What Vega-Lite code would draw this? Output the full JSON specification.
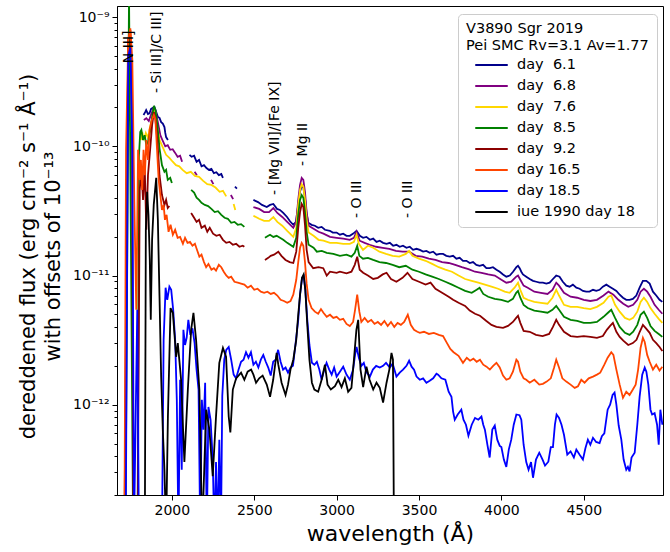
{
"$schema": "https://vega.github.io/schema/vega-lite/v6.json",
"width": 546, "height": 489,
"autosize": {"type": "none"},
"padding": {"left": 117, "top": 6, "right": 7, "bottom": 57},
"background": "white",
"datasets": {
"ann": [
{"t":"N III]","w":1742,"f":4.4e-10},
{"t":"- Si III]/C III]","w":1912,"f":2.59e-10},
{"t":"- [Mg VII]/[Fe IX]","w":2626,"f":4.21e-11},
{"t":"- Mg II","w":2798,"f":7.05e-11},
{"t":"- O III","w":3125,"f":2.79e-11},
{"t":"- O III","w":3434,"f":2.79e-11}
],
"spec": [
{"s":"6.1","g":"a","w":1828,"f":1.75e-10},{"s":"6.1","g":"a","w":1838,"f":1.84e-10},{"s":"6.1","g":"a","w":1844,"f":1.91e-10},{"s":"6.1","g":"a","w":1855,"f":1.78e-10},{"s":"6.1","g":"a","w":1864,"f":1.8e-10},{"s":"6.1","g":"a","w":1874,"f":1.95e-10},{"s":"6.1","g":"a","w":1885,"f":1.99e-10},{"s":"6.1","g":"a","w":1894,"f":2.02e-10},{"s":"6.1","g":"a","w":1905,"f":1.84e-10},{"s":"6.1","g":"a","w":1915,"f":1.69e-10},{"s":"6.1","g":"a","w":1925,"f":1.66e-10},{"s":"6.1","g":"a","w":1935,"f":1.54e-10},{"s":"6.1","g":"a","w":1945,"f":1.5e-10},{"s":"6.1","g":"a","w":1955,"f":1.41e-10},{"s":"6.1","g":"a","w":1960,"f":1.27e-10},{"s":"6.1","g":"a","w":1965,"f":1.18e-10},{"s":"6.1","g":"a","w":1976,"f":1.12e-10},
{"s":"6.1","g":"b","w":2107,"f":8.6e-11},{"s":"6.1","g":"b","w":2120,"f":8.3e-11},{"s":"6.1","g":"b","w":2135,"f":8.45e-11},{"s":"6.1","g":"b","w":2150,"f":7.6e-11},{"s":"6.1","g":"b","w":2165,"f":7.85e-11},{"s":"6.1","g":"b","w":2180,"f":7.0e-11},{"s":"6.1","g":"b","w":2195,"f":7.15e-11},{"s":"6.1","g":"b","w":2210,"f":6.8e-11},{"s":"6.1","g":"b","w":2225,"f":6.57e-11},{"s":"6.1","g":"b","w":2240,"f":6.7e-11},{"s":"6.1","g":"b","w":2255,"f":6.2e-11},{"s":"6.1","g":"b","w":2270,"f":6.3e-11},{"s":"6.1","g":"b","w":2285,"f":5.98e-11},{"s":"6.1","g":"b","w":2300,"f":6.1e-11},{"s":"6.1","g":"b","w":2310,"f":5.7e-11},
{"s":"6.1","g":"c","w":2383,"f":4.87e-11},{"s":"6.1","g":"c","w":2395,"f":4.7e-11},
{"s":"6.1","g":"d","w":2495,"f":3.85e-11},{"s":"6.1","g":"d","w":2523,"f":3.7e-11},{"s":"6.1","g":"d","w":2547,"f":3.52e-11},{"s":"6.1","g":"d","w":2576,"f":3.39e-11},{"s":"6.1","g":"d","w":2596,"f":3.52e-11},{"s":"6.1","g":"d","w":2616,"f":3.58e-11},{"s":"6.1","g":"d","w":2638,"f":3.28e-11},{"s":"6.1","g":"d","w":2656,"f":3.22e-11},{"s":"6.1","g":"d","w":2676,"f":3.05e-11},{"s":"6.1","g":"d","w":2699,"f":2.84e-11},{"s":"6.1","g":"d","w":2717,"f":2.63e-11},{"s":"6.1","g":"d","w":2737,"f":2.47e-11},{"s":"6.1","g":"d","w":2753,"f":2.6e-11},{"s":"6.1","g":"d","w":2767,"f":3.52e-11},{"s":"6.1","g":"d","w":2777,"f":4.45e-11},{"s":"6.1","g":"d","w":2788,"f":4.87e-11},{"s":"6.1","g":"d","w":2798,"f":4.8e-11},{"s":"6.1","g":"d","w":2808,"f":4.0e-11},{"s":"6.1","g":"d","w":2818,"f":3.0e-11},{"s":"6.1","g":"d","w":2828,"f":2.56e-11},{"s":"6.1","g":"d","w":2848,"f":2.47e-11},{"s":"6.1","g":"d","w":2868,"f":2.43e-11},{"s":"6.1","g":"d","w":2888,"f":2.34e-11},{"s":"6.1","g":"d","w":2909,"f":2.38e-11},{"s":"6.1","g":"d","w":2929,"f":2.26e-11},{"s":"6.1","g":"d","w":2959,"f":2.22e-11},{"s":"6.1","g":"d","w":2977,"f":2.15e-11},{"s":"6.1","g":"d","w":3000,"f":2.15e-11},{"s":"6.1","g":"d","w":3020,"f":2.07e-11},{"s":"6.1","g":"d","w":3040,"f":2.11e-11},{"s":"6.1","g":"d","w":3060,"f":2.03e-11},{"s":"6.1","g":"d","w":3080,"f":2.03e-11},{"s":"6.1","g":"d","w":3101,"f":2.11e-11},{"s":"6.1","g":"d","w":3121,"f":2.22e-11},{"s":"6.1","g":"d","w":3141,"f":2.03e-11},{"s":"6.1","g":"d","w":3161,"f":1.96e-11},{"s":"6.1","g":"d","w":3181,"f":1.99e-11},{"s":"6.1","g":"d","w":3202,"f":1.89e-11},{"s":"6.1","g":"d","w":3222,"f":1.93e-11},{"s":"6.1","g":"d","w":3242,"f":1.82e-11},{"s":"6.1","g":"d","w":3262,"f":1.86e-11},{"s":"6.1","g":"d","w":3282,"f":1.79e-11},{"s":"6.1","g":"d","w":3303,"f":1.76e-11},{"s":"6.1","g":"d","w":3323,"f":1.79e-11},{"s":"6.1","g":"d","w":3343,"f":1.7e-11},{"s":"6.1","g":"d","w":3363,"f":1.73e-11},{"s":"6.1","g":"d","w":3383,"f":1.67e-11},{"s":"6.1","g":"d","w":3403,"f":1.7e-11},{"s":"6.1","g":"d","w":3424,"f":1.64e-11},{"s":"6.1","g":"d","w":3444,"f":1.67e-11},{"s":"6.1","g":"d","w":3464,"f":1.58e-11},{"s":"6.1","g":"d","w":3485,"f":1.61e-11},{"s":"6.1","g":"d","w":3505,"f":1.58e-11},{"s":"6.1","g":"d","w":3525,"f":1.53e-11},{"s":"6.1","g":"d","w":3545,"f":1.55e-11},{"s":"6.1","g":"d","w":3565,"f":1.5e-11},{"s":"6.1","g":"d","w":3586,"f":1.53e-11},{"s":"6.1","g":"d","w":3606,"f":1.45e-11},{"s":"6.1","g":"d","w":3626,"f":1.47e-11},{"s":"6.1","g":"d","w":3646,"f":1.47e-11},{"s":"6.1","g":"d","w":3666,"f":1.42e-11},{"s":"6.1","g":"d","w":3687,"f":1.4e-11},{"s":"6.1","g":"d","w":3707,"f":1.42e-11},{"s":"6.1","g":"d","w":3727,"f":1.35e-11},{"s":"6.1","g":"d","w":3747,"f":1.37e-11},{"s":"6.1","g":"d","w":3767,"f":1.3e-11},{"s":"6.1","g":"d","w":3788,"f":1.3e-11},{"s":"6.1","g":"d","w":3808,"f":1.25e-11},{"s":"6.1","g":"d","w":3828,"f":1.27e-11},{"s":"6.1","g":"d","w":3848,"f":1.21e-11},{"s":"6.1","g":"d","w":3868,"f":1.19e-11},{"s":"6.1","g":"d","w":3889,"f":1.21e-11},{"s":"6.1","g":"d","w":3909,"f":1.14e-11},{"s":"6.1","g":"d","w":3929,"f":1.14e-11},{"s":"6.1","g":"d","w":3949,"f":1.16e-11},{"s":"6.1","g":"d","w":3970,"f":1.11e-11},{"s":"6.1","g":"d","w":3990,"f":1.07e-11},{"s":"6.1","g":"d","w":4010,"f":1.02e-11},{"s":"6.1","g":"d","w":4030,"f":9.8e-12},{"s":"6.1","g":"d","w":4051,"f":1.0e-11},{"s":"6.1","g":"d","w":4071,"f":1.07e-11},{"s":"6.1","g":"d","w":4091,"f":1.16e-11},{"s":"6.1","g":"d","w":4101,"f":1.19e-11},{"s":"6.1","g":"d","w":4111,"f":1.14e-11},{"s":"6.1","g":"d","w":4121,"f":1.07e-11},{"s":"6.1","g":"d","w":4131,"f":1.02e-11},{"s":"6.1","g":"d","w":4151,"f":9.8e-12},{"s":"6.1","g":"d","w":4172,"f":9.4e-12},{"s":"6.1","g":"d","w":4192,"f":9.1e-12},{"s":"6.1","g":"d","w":4212,"f":8.95e-12},{"s":"6.1","g":"d","w":4232,"f":8.8e-12},{"s":"6.1","g":"d","w":4252,"f":8.8e-12},{"s":"6.1","g":"d","w":4273,"f":8.65e-12},{"s":"6.1","g":"d","w":4293,"f":8.8e-12},{"s":"6.1","g":"d","w":4313,"f":9.4e-12},{"s":"6.1","g":"d","w":4333,"f":1.0e-11},{"s":"6.1","g":"d","w":4353,"f":9.8e-12},{"s":"6.1","g":"d","w":4373,"f":8.95e-12},{"s":"6.1","g":"d","w":4394,"f":8.35e-12},{"s":"6.1","g":"d","w":4414,"f":8.2e-12},{"s":"6.1","g":"d","w":4434,"f":8.5e-12},{"s":"6.1","g":"d","w":4455,"f":8.05e-12},{"s":"6.1","g":"d","w":4475,"f":7.9e-12},{"s":"6.1","g":"d","w":4495,"f":7.6e-12},{"s":"6.1","g":"d","w":4515,"f":7.5e-12},{"s":"6.1","g":"d","w":4535,"f":7.5e-12},{"s":"6.1","g":"d","w":4556,"f":7.75e-12},{"s":"6.1","g":"d","w":4576,"f":7.6e-12},{"s":"6.1","g":"d","w":4596,"f":7.75e-12},{"s":"6.1","g":"d","w":4616,"f":8.2e-12},{"s":"6.1","g":"d","w":4637,"f":8.5e-12},{"s":"6.1","g":"d","w":4657,"f":8.2e-12},{"s":"6.1","g":"d","w":4677,"f":7.9e-12},{"s":"6.1","g":"d","w":4698,"f":7.6e-12},{"s":"6.1","g":"d","w":4718,"f":7.1e-12},{"s":"6.1","g":"d","w":4738,"f":6.73e-12},{"s":"6.1","g":"d","w":4758,"f":6.49e-12},{"s":"6.1","g":"d","w":4778,"f":6.49e-12},{"s":"6.1","g":"d","w":4798,"f":6.6e-12},{"s":"6.1","g":"d","w":4819,"f":7.0e-12},{"s":"6.1","g":"d","w":4839,"f":8.05e-12},{"s":"6.1","g":"d","w":4859,"f":9.1e-12},{"s":"6.1","g":"d","w":4880,"f":9.1e-12},{"s":"6.1","g":"d","w":4900,"f":8.65e-12},{"s":"6.1","g":"d","w":4920,"f":7.5e-12},{"s":"6.1","g":"d","w":4940,"f":7.0e-12},{"s":"6.1","g":"d","w":4960,"f":6.49e-12},{"s":"6.1","g":"d","w":4977,"f":6.25e-12},

{"s":"6.8","g":"a","w":1830,"f":1.6e-10},{"s":"6.8","g":"a","w":1845,"f":1.65e-10},{"s":"6.8","g":"a","w":1860,"f":1.57e-10},{"s":"6.8","g":"a","w":1875,"f":1.78e-10},{"s":"6.8","g":"a","w":1890,"f":1.99e-10},{"s":"6.8","g":"a","w":1900,"f":1.91e-10},{"s":"6.8","g":"a","w":1915,"f":1.54e-10},{"s":"6.8","g":"a","w":1930,"f":1.22e-10},{"s":"6.8","g":"a","w":1945,"f":1.1e-10},{"s":"6.8","g":"a","w":1960,"f":1.0e-10},{"s":"6.8","g":"a","w":1975,"f":1.02e-10},{"s":"6.8","g":"a","w":1990,"f":9.4e-11},{"s":"6.8","g":"a","w":2005,"f":9.5e-11},{"s":"6.8","g":"a","w":2020,"f":8.9e-11},{"s":"6.8","g":"a","w":2035,"f":8.3e-11},{"s":"6.8","g":"a","w":2050,"f":8.45e-11},{"s":"6.8","g":"a","w":2062,"f":7.6e-11},
{"s":"6.8","g":"b","w":2138,"f":6.35e-11},{"s":"6.8","g":"b","w":2152,"f":5.98e-11},
{"s":"6.8","g":"c","w":2238,"f":5.5e-11},{"s":"6.8","g":"c","w":2252,"f":5.1e-11},
{"s":"6.8","g":"e","w":2358,"f":4.2e-11},{"s":"6.8","g":"e","w":2372,"f":3.9e-11},
{"s":"6.8","g":"d","w":2495,"f":3.39e-11},{"s":"6.8","g":"d","w":2530,"f":3.28e-11},{"s":"6.8","g":"d","w":2560,"f":3.1e-11},{"s":"6.8","g":"d","w":2590,"f":3.1e-11},{"s":"6.8","g":"d","w":2616,"f":3.33e-11},{"s":"6.8","g":"d","w":2640,"f":3.05e-11},{"s":"6.8","g":"d","w":2670,"f":2.84e-11},{"s":"6.8","g":"d","w":2700,"f":2.6e-11},{"s":"6.8","g":"d","w":2737,"f":2.34e-11},{"s":"6.8","g":"d","w":2755,"f":2.6e-11},{"s":"6.8","g":"d","w":2767,"f":3.85e-11},{"s":"6.8","g":"d","w":2778,"f":5.03e-11},{"s":"6.8","g":"d","w":2788,"f":5.7e-11},{"s":"6.8","g":"d","w":2798,"f":5.5e-11},{"s":"6.8","g":"d","w":2808,"f":4.45e-11},{"s":"6.8","g":"d","w":2818,"f":3.1e-11},{"s":"6.8","g":"d","w":2830,"f":2.43e-11},{"s":"6.8","g":"d","w":2860,"f":2.3e-11},{"s":"6.8","g":"d","w":2890,"f":2.18e-11},{"s":"6.8","g":"d","w":2920,"f":2.11e-11},{"s":"6.8","g":"d","w":2960,"f":1.99e-11},{"s":"6.8","g":"d","w":3000,"f":1.96e-11},{"s":"6.8","g":"d","w":3040,"f":1.93e-11},{"s":"6.8","g":"d","w":3080,"f":1.89e-11},{"s":"6.8","g":"d","w":3105,"f":1.96e-11},{"s":"6.8","g":"d","w":3121,"f":2.18e-11},{"s":"6.8","g":"d","w":3140,"f":1.86e-11},{"s":"6.8","g":"d","w":3170,"f":1.79e-11},{"s":"6.8","g":"d","w":3200,"f":1.73e-11},{"s":"6.8","g":"d","w":3240,"f":1.67e-11},{"s":"6.8","g":"d","w":3280,"f":1.64e-11},{"s":"6.8","g":"d","w":3320,"f":1.61e-11},{"s":"6.8","g":"d","w":3360,"f":1.55e-11},{"s":"6.8","g":"d","w":3400,"f":1.53e-11},{"s":"6.8","g":"d","w":3440,"f":1.53e-11},{"s":"6.8","g":"d","w":3480,"f":1.42e-11},{"s":"6.8","g":"d","w":3520,"f":1.4e-11},{"s":"6.8","g":"d","w":3560,"f":1.35e-11},{"s":"6.8","g":"d","w":3600,"f":1.32e-11},{"s":"6.8","g":"d","w":3640,"f":1.27e-11},{"s":"6.8","g":"d","w":3680,"f":1.25e-11},{"s":"6.8","g":"d","w":3720,"f":1.21e-11},{"s":"6.8","g":"d","w":3760,"f":1.16e-11},{"s":"6.8","g":"d","w":3800,"f":1.12e-11},{"s":"6.8","g":"d","w":3840,"f":1.07e-11},{"s":"6.8","g":"d","w":3880,"f":1.05e-11},{"s":"6.8","g":"d","w":3920,"f":1.02e-11},{"s":"6.8","g":"d","w":3960,"f":1.0e-11},{"s":"6.8","g":"d","w":4000,"f":9.27e-12},{"s":"6.8","g":"d","w":4030,"f":8.8e-12},{"s":"6.8","g":"d","w":4060,"f":8.95e-12},{"s":"6.8","g":"d","w":4090,"f":9.8e-12},{"s":"6.8","g":"d","w":4101,"f":1.0e-11},{"s":"6.8","g":"d","w":4115,"f":9.27e-12},{"s":"6.8","g":"d","w":4135,"f":8.35e-12},{"s":"6.8","g":"d","w":4160,"f":8.05e-12},{"s":"6.8","g":"d","w":4200,"f":7.5e-12},{"s":"6.8","g":"d","w":4240,"f":7.35e-12},{"s":"6.8","g":"d","w":4280,"f":7.2e-12},{"s":"6.8","g":"d","w":4310,"f":7.75e-12},{"s":"6.8","g":"d","w":4333,"f":8.8e-12},{"s":"6.8","g":"d","w":4350,"f":8.35e-12},{"s":"6.8","g":"d","w":4380,"f":7.35e-12},{"s":"6.8","g":"d","w":4420,"f":6.85e-12},{"s":"6.8","g":"d","w":4460,"f":6.73e-12},{"s":"6.8","g":"d","w":4500,"f":6.49e-12},{"s":"6.8","g":"d","w":4540,"f":6.35e-12},{"s":"6.8","g":"d","w":4580,"f":6.49e-12},{"s":"6.8","g":"d","w":4620,"f":7.0e-12},{"s":"6.8","g":"d","w":4650,"f":7.5e-12},{"s":"6.8","g":"d","w":4680,"f":7.1e-12},{"s":"6.8","g":"d","w":4710,"f":6.49e-12},{"s":"6.8","g":"d","w":4740,"f":6.05e-12},{"s":"6.8","g":"d","w":4770,"f":5.72e-12},{"s":"6.8","g":"d","w":4800,"f":5.93e-12},{"s":"6.8","g":"d","w":4825,"f":6.49e-12},{"s":"6.8","g":"d","w":4845,"f":7.5e-12},{"s":"6.8","g":"d","w":4865,"f":7.9e-12},{"s":"6.8","g":"d","w":4885,"f":7.5e-12},{"s":"6.8","g":"d","w":4905,"f":6.85e-12},{"s":"6.8","g":"d","w":4930,"f":5.93e-12},{"s":"6.8","g":"d","w":4955,"f":5.43e-12},{"s":"6.8","g":"d","w":4977,"f":5.06e-12},

{"s":"7.6","g":"a","w":1812,"f":1.12e-10},{"s":"7.6","g":"a","w":1820,"f":1.29e-10},{"s":"7.6","g":"a","w":1830,"f":1.12e-10},{"s":"7.6","g":"a","w":1842,"f":1.27e-10},{"s":"7.6","g":"a","w":1855,"f":1.16e-10},{"s":"7.6","g":"a","w":1866,"f":1.39e-10},{"s":"7.6","g":"a","w":1880,"f":1.63e-10},{"s":"7.6","g":"a","w":1891,"f":1.95e-10},{"s":"7.6","g":"a","w":1900,"f":1.84e-10},{"s":"7.6","g":"a","w":1912,"f":1.39e-10},{"s":"7.6","g":"a","w":1925,"f":1.12e-10},{"s":"7.6","g":"a","w":1945,"f":9.8e-11},{"s":"7.6","g":"a","w":1965,"f":8.6e-11},{"s":"7.6","g":"a","w":1985,"f":8.15e-11},{"s":"7.6","g":"a","w":2005,"f":7.6e-11},{"s":"7.6","g":"a","w":2025,"f":7.15e-11},{"s":"7.6","g":"a","w":2045,"f":7.0e-11},{"s":"7.6","g":"a","w":2065,"f":6.57e-11},{"s":"7.6","g":"a","w":2090,"f":6.2e-11},{"s":"7.6","g":"a","w":2115,"f":6.35e-11},{"s":"7.6","g":"a","w":2140,"f":5.9e-11},{"s":"7.6","g":"a","w":2165,"f":5.8e-11},{"s":"7.6","g":"a","w":2190,"f":5.4e-11},{"s":"7.6","g":"a","w":2215,"f":5.1e-11},{"s":"7.6","g":"a","w":2240,"f":5.03e-11},{"s":"7.6","g":"a","w":2265,"f":4.8e-11},{"s":"7.6","g":"a","w":2290,"f":4.45e-11},{"s":"7.6","g":"a","w":2310,"f":4.52e-11},{"s":"7.6","g":"a","w":2330,"f":4.1e-11},
{"s":"7.6","g":"c","w":2375,"f":3.58e-11},{"s":"7.6","g":"c","w":2385,"f":3.22e-11},
{"s":"7.6","g":"d","w":2495,"f":2.9e-11},{"s":"7.6","g":"d","w":2530,"f":2.75e-11},{"s":"7.6","g":"d","w":2560,"f":2.65e-11},{"s":"7.6","g":"d","w":2590,"f":2.65e-11},{"s":"7.6","g":"d","w":2616,"f":2.84e-11},{"s":"7.6","g":"d","w":2640,"f":2.6e-11},{"s":"7.6","g":"d","w":2670,"f":2.43e-11},{"s":"7.6","g":"d","w":2700,"f":2.22e-11},{"s":"7.6","g":"d","w":2737,"f":1.99e-11},{"s":"7.6","g":"d","w":2755,"f":2.34e-11},{"s":"7.6","g":"d","w":2767,"f":3.52e-11},{"s":"7.6","g":"d","w":2778,"f":4.6e-11},{"s":"7.6","g":"d","w":2788,"f":5.1e-11},{"s":"7.6","g":"d","w":2798,"f":4.87e-11},{"s":"7.6","g":"d","w":2808,"f":3.85e-11},{"s":"7.6","g":"d","w":2818,"f":2.7e-11},{"s":"7.6","g":"d","w":2830,"f":2.15e-11},{"s":"7.6","g":"d","w":2860,"f":2.03e-11},{"s":"7.6","g":"d","w":2890,"f":1.89e-11},{"s":"7.6","g":"d","w":2920,"f":1.86e-11},{"s":"7.6","g":"d","w":2960,"f":1.79e-11},{"s":"7.6","g":"d","w":3000,"f":1.79e-11},{"s":"7.6","g":"d","w":3040,"f":1.76e-11},{"s":"7.6","g":"d","w":3080,"f":1.76e-11},{"s":"7.6","g":"d","w":3105,"f":1.82e-11},{"s":"7.6","g":"d","w":3121,"f":2.07e-11},{"s":"7.6","g":"d","w":3135,"f":1.76e-11},{"s":"7.6","g":"d","w":3160,"f":1.58e-11},{"s":"7.6","g":"d","w":3190,"f":1.7e-11},{"s":"7.6","g":"d","w":3222,"f":1.64e-11},{"s":"7.6","g":"d","w":3260,"f":1.53e-11},{"s":"7.6","g":"d","w":3300,"f":1.47e-11},{"s":"7.6","g":"d","w":3340,"f":1.42e-11},{"s":"7.6","g":"d","w":3380,"f":1.4e-11},{"s":"7.6","g":"d","w":3420,"f":1.47e-11},{"s":"7.6","g":"d","w":3440,"f":1.55e-11},{"s":"7.6","g":"d","w":3460,"f":1.42e-11},{"s":"7.6","g":"d","w":3500,"f":1.35e-11},{"s":"7.6","g":"d","w":3540,"f":1.3e-11},{"s":"7.6","g":"d","w":3580,"f":1.23e-11},{"s":"7.6","g":"d","w":3620,"f":1.16e-11},{"s":"7.6","g":"d","w":3660,"f":1.11e-11},{"s":"7.6","g":"d","w":3700,"f":1.07e-11},{"s":"7.6","g":"d","w":3740,"f":1.0e-11},{"s":"7.6","g":"d","w":3780,"f":9.4e-12},{"s":"7.6","g":"d","w":3820,"f":9.1e-12},{"s":"7.6","g":"d","w":3860,"f":8.8e-12},{"s":"7.6","g":"d","w":3900,"f":8.5e-12},{"s":"7.6","g":"d","w":3940,"f":8.2e-12},{"s":"7.6","g":"d","w":3980,"f":7.9e-12},{"s":"7.6","g":"d","w":4020,"f":7.5e-12},{"s":"7.6","g":"d","w":4050,"f":7.35e-12},{"s":"7.6","g":"d","w":4080,"f":8.05e-12},{"s":"7.6","g":"d","w":4101,"f":8.8e-12},{"s":"7.6","g":"d","w":4115,"f":7.75e-12},{"s":"7.6","g":"d","w":4135,"f":6.73e-12},{"s":"7.6","g":"d","w":4160,"f":6.49e-12},{"s":"7.6","g":"d","w":4200,"f":6.25e-12},{"s":"7.6","g":"d","w":4240,"f":6.15e-12},{"s":"7.6","g":"d","w":4280,"f":6.05e-12},{"s":"7.6","g":"d","w":4310,"f":6.73e-12},{"s":"7.6","g":"d","w":4333,"f":7.75e-12},{"s":"7.6","g":"d","w":4350,"f":7.0e-12},{"s":"7.6","g":"d","w":4380,"f":5.93e-12},{"s":"7.6","g":"d","w":4420,"f":5.72e-12},{"s":"7.6","g":"d","w":4460,"f":5.72e-12},{"s":"7.6","g":"d","w":4500,"f":5.6e-12},{"s":"7.6","g":"d","w":4540,"f":5.5e-12},{"s":"7.6","g":"d","w":4580,"f":5.72e-12},{"s":"7.6","g":"d","w":4620,"f":6.15e-12},{"s":"7.6","g":"d","w":4650,"f":6.85e-12},{"s":"7.6","g":"d","w":4667,"f":7.0e-12},{"s":"7.6","g":"d","w":4690,"f":5.93e-12},{"s":"7.6","g":"d","w":4718,"f":5.25e-12},{"s":"7.6","g":"d","w":4750,"f":4.7e-12},{"s":"7.6","g":"d","w":4778,"f":4.54e-12},{"s":"7.6","g":"d","w":4800,"f":4.7e-12},{"s":"7.6","g":"d","w":4825,"f":5.25e-12},{"s":"7.6","g":"d","w":4845,"f":6.25e-12},{"s":"7.6","g":"d","w":4865,"f":6.73e-12},{"s":"7.6","g":"d","w":4885,"f":6.25e-12},{"s":"7.6","g":"d","w":4905,"f":5.6e-12},{"s":"7.6","g":"d","w":4930,"f":5.06e-12},{"s":"7.6","g":"d","w":4955,"f":4.62e-12},{"s":"7.6","g":"d","w":4977,"f":4.3e-12},

{"s":"8.5","g":"a","w":1718,"f":1e-13},{"s":"8.5","g":"a","w":1740,"f":1.5e-9},{"s":"8.5","g":"a","w":1765,"f":1e-13},{"s":"8.5","g":"a","w":1792,"f":1e-13},{"s":"8.5","g":"a","w":1800,"f":8.3e-11},{"s":"8.5","g":"a","w":1808,"f":1.29e-10},{"s":"8.5","g":"a","w":1815,"f":1.34e-10},{"s":"8.5","g":"a","w":1825,"f":1.12e-10},{"s":"8.5","g":"a","w":1835,"f":1.22e-10},{"s":"8.5","g":"a","w":1845,"f":1.02e-10},{"s":"8.5","g":"a","w":1855,"f":1.08e-10},{"s":"8.5","g":"a","w":1870,"f":1.34e-10},{"s":"8.5","g":"a","w":1882,"f":1.75e-10},{"s":"8.5","g":"a","w":1891,"f":2.06e-10},{"s":"8.5","g":"a","w":1900,"f":1.91e-10},{"s":"8.5","g":"a","w":1912,"f":1.46e-10},{"s":"8.5","g":"a","w":1925,"f":9.65e-11},{"s":"8.5","g":"a","w":1940,"f":7.15e-11},{"s":"8.5","g":"a","w":1955,"f":6.35e-11},{"s":"8.5","g":"a","w":1965,"f":6.57e-11},{"s":"8.5","g":"a","w":1975,"f":5.5e-11},{"s":"8.5","g":"a","w":1990,"f":5.7e-11},{"s":"8.5","g":"a","w":2000,"f":5.2e-11},
{"s":"8.5","g":"b","w":2117,"f":4.6e-11},{"s":"8.5","g":"b","w":2135,"f":4.38e-11},{"s":"8.5","g":"b","w":2150,"f":4.0e-11},{"s":"8.5","g":"b","w":2165,"f":3.85e-11},{"s":"8.5","g":"b","w":2180,"f":3.65e-11},{"s":"8.5","g":"b","w":2200,"f":3.52e-11},{"s":"8.5","g":"b","w":2220,"f":3.45e-11},{"s":"8.5","g":"b","w":2240,"f":3.28e-11},{"s":"8.5","g":"b","w":2260,"f":3.1e-11},{"s":"8.5","g":"b","w":2280,"f":3.15e-11},{"s":"8.5","g":"b","w":2300,"f":2.95e-11},{"s":"8.5","g":"b","w":2320,"f":2.8e-11},{"s":"8.5","g":"b","w":2340,"f":2.75e-11},{"s":"8.5","g":"b","w":2360,"f":2.56e-11},{"s":"8.5","g":"b","w":2380,"f":2.6e-11},{"s":"8.5","g":"b","w":2400,"f":2.47e-11},{"s":"8.5","g":"b","w":2420,"f":2.5e-11},{"s":"8.5","g":"b","w":2440,"f":2.38e-11},
{"s":"8.5","g":"d","w":2565,"f":1.96e-11},{"s":"8.5","g":"d","w":2585,"f":2.03e-11},{"s":"8.5","g":"d","w":2596,"f":2.07e-11},{"s":"8.5","g":"d","w":2616,"f":1.99e-11},{"s":"8.5","g":"d","w":2636,"f":2.03e-11},{"s":"8.5","g":"d","w":2656,"f":1.96e-11},{"s":"8.5","g":"d","w":2676,"f":1.89e-11},{"s":"8.5","g":"d","w":2700,"f":1.79e-11},{"s":"8.5","g":"d","w":2737,"f":1.67e-11},{"s":"8.5","g":"d","w":2755,"f":1.96e-11},{"s":"8.5","g":"d","w":2767,"f":2.95e-11},{"s":"8.5","g":"d","w":2778,"f":3.85e-11},{"s":"8.5","g":"d","w":2788,"f":4.2e-11},{"s":"8.5","g":"d","w":2798,"f":4.0e-11},{"s":"8.5","g":"d","w":2808,"f":3.1e-11},{"s":"8.5","g":"d","w":2818,"f":2.18e-11},{"s":"8.5","g":"d","w":2830,"f":1.73e-11},{"s":"8.5","g":"d","w":2860,"f":1.64e-11},{"s":"8.5","g":"d","w":2880,"f":1.53e-11},{"s":"8.5","g":"d","w":2910,"f":1.55e-11},{"s":"8.5","g":"d","w":2940,"f":1.5e-11},{"s":"8.5","g":"d","w":2980,"f":1.47e-11},{"s":"8.5","g":"d","w":3020,"f":1.42e-11},{"s":"8.5","g":"d","w":3060,"f":1.45e-11},{"s":"8.5","g":"d","w":3090,"f":1.4e-11},{"s":"8.5","g":"d","w":3110,"f":1.5e-11},{"s":"8.5","g":"d","w":3125,"f":1.7e-11},{"s":"8.5","g":"d","w":3138,"f":1.42e-11},{"s":"8.5","g":"d","w":3160,"f":1.35e-11},{"s":"8.5","g":"d","w":3190,"f":1.37e-11},{"s":"8.5","g":"d","w":3222,"f":1.32e-11},{"s":"8.5","g":"d","w":3260,"f":1.27e-11},{"s":"8.5","g":"d","w":3300,"f":1.25e-11},{"s":"8.5","g":"d","w":3340,"f":1.21e-11},{"s":"8.5","g":"d","w":3380,"f":1.16e-11},{"s":"8.5","g":"d","w":3420,"f":1.19e-11},{"s":"8.5","g":"d","w":3460,"f":1.11e-11},{"s":"8.5","g":"d","w":3500,"f":1.07e-11},{"s":"8.5","g":"d","w":3540,"f":1.02e-11},{"s":"8.5","g":"d","w":3580,"f":9.8e-12},{"s":"8.5","g":"d","w":3620,"f":9.4e-12},{"s":"8.5","g":"d","w":3660,"f":8.95e-12},{"s":"8.5","g":"d","w":3700,"f":8.5e-12},{"s":"8.5","g":"d","w":3740,"f":8.05e-12},{"s":"8.5","g":"d","w":3780,"f":7.6e-12},{"s":"8.5","g":"d","w":3820,"f":7.35e-12},{"s":"8.5","g":"d","w":3850,"f":7.75e-12},{"s":"8.5","g":"d","w":3868,"f":8.05e-12},{"s":"8.5","g":"d","w":3890,"f":7.2e-12},{"s":"8.5","g":"d","w":3920,"f":6.85e-12},{"s":"8.5","g":"d","w":3960,"f":6.6e-12},{"s":"8.5","g":"d","w":4000,"f":6.49e-12},{"s":"8.5","g":"d","w":4040,"f":6.25e-12},{"s":"8.5","g":"d","w":4070,"f":6.6e-12},{"s":"8.5","g":"d","w":4090,"f":7.35e-12},{"s":"8.5","g":"d","w":4101,"f":7.6e-12},{"s":"8.5","g":"d","w":4115,"f":6.73e-12},{"s":"8.5","g":"d","w":4135,"f":5.93e-12},{"s":"8.5","g":"d","w":4160,"f":5.6e-12},{"s":"8.5","g":"d","w":4200,"f":5.35e-12},{"s":"8.5","g":"d","w":4240,"f":5.25e-12},{"s":"8.5","g":"d","w":4280,"f":5.15e-12},{"s":"8.5","g":"d","w":4310,"f":5.43e-12},{"s":"8.5","g":"d","w":4333,"f":5.82e-12},{"s":"8.5","g":"d","w":4350,"f":5.43e-12},{"s":"8.5","g":"d","w":4380,"f":4.79e-12},{"s":"8.5","g":"d","w":4420,"f":4.54e-12},{"s":"8.5","g":"d","w":4460,"f":4.45e-12},{"s":"8.5","g":"d","w":4500,"f":4.3e-12},{"s":"8.5","g":"d","w":4540,"f":4.3e-12},{"s":"8.5","g":"d","w":4580,"f":4.37e-12},{"s":"8.5","g":"d","w":4620,"f":4.79e-12},{"s":"8.5","g":"d","w":4647,"f":5.15e-12},{"s":"8.5","g":"d","w":4667,"f":5.43e-12},{"s":"8.5","g":"d","w":4690,"f":4.7e-12},{"s":"8.5","g":"d","w":4718,"f":4.0e-12},{"s":"8.5","g":"d","w":4750,"f":3.6e-12},{"s":"8.5","g":"d","w":4778,"f":3.47e-12},{"s":"8.5","g":"d","w":4800,"f":3.67e-12},{"s":"8.5","g":"d","w":4825,"f":4.15e-12},{"s":"8.5","g":"d","w":4845,"f":4.97e-12},{"s":"8.5","g":"d","w":4865,"f":5.25e-12},{"s":"8.5","g":"d","w":4885,"f":4.7e-12},{"s":"8.5","g":"d","w":4905,"f":4.07e-12},{"s":"8.5","g":"d","w":4930,"f":3.73e-12},{"s":"8.5","g":"d","w":4955,"f":3.53e-12},{"s":"8.5","g":"d","w":4977,"f":3.35e-12},

{"s":"9.2","g":"a","w":1712,"f":1e-13},{"s":"9.2","g":"a","w":1735,"f":6.65e-10},{"s":"9.2","g":"a","w":1748,"f":7.95e-10},{"s":"9.2","g":"a","w":1758,"f":1.6e-10},{"s":"9.2","g":"a","w":1766,"f":1e-13},{"s":"9.2","g":"a","w":1792,"f":1e-13},{"s":"9.2","g":"a","w":1805,"f":4.6e-11},{"s":"9.2","g":"a","w":1815,"f":6.57e-11},{"s":"9.2","g":"a","w":1825,"f":3.85e-11},{"s":"9.2","g":"a","w":1835,"f":7.15e-11},{"s":"9.2","g":"a","w":1845,"f":2.26e-11},{"s":"9.2","g":"a","w":1855,"f":5.98e-11},{"s":"9.2","g":"a","w":1868,"f":9.4e-11},{"s":"9.2","g":"a","w":1880,"f":1.46e-10},{"s":"9.2","g":"a","w":1891,"f":1.84e-10},{"s":"9.2","g":"a","w":1900,"f":1.63e-10},{"s":"9.2","g":"a","w":1912,"f":1.12e-10},{"s":"9.2","g":"a","w":1925,"f":5.98e-11},{"s":"9.2","g":"a","w":1940,"f":4.2e-11},{"s":"9.2","g":"a","w":1955,"f":3.52e-11},{"s":"9.2","g":"a","w":1965,"f":3.85e-11},{"s":"9.2","g":"a","w":1975,"f":3.33e-11},{"s":"9.2","g":"a","w":1985,"f":3.45e-11},
{"s":"9.2","g":"b","w":2117,"f":3.05e-11},{"s":"9.2","g":"b","w":2135,"f":2.8e-11},{"s":"9.2","g":"b","w":2150,"f":2.6e-11},{"s":"9.2","g":"b","w":2165,"f":2.7e-11},{"s":"9.2","g":"b","w":2180,"f":2.34e-11},{"s":"9.2","g":"b","w":2200,"f":2.43e-11},{"s":"9.2","g":"b","w":2215,"f":2.18e-11},{"s":"9.2","g":"b","w":2230,"f":2.34e-11},{"s":"9.2","g":"b","w":2250,"f":2.11e-11},{"s":"9.2","g":"b","w":2270,"f":2.03e-11},{"s":"9.2","g":"b","w":2290,"f":2.07e-11},{"s":"9.2","g":"b","w":2310,"f":1.89e-11},{"s":"9.2","g":"b","w":2330,"f":1.79e-11},{"s":"9.2","g":"b","w":2350,"f":1.82e-11},{"s":"9.2","g":"b","w":2370,"f":1.73e-11},{"s":"9.2","g":"b","w":2390,"f":1.76e-11},{"s":"9.2","g":"b","w":2410,"f":1.67e-11},{"s":"9.2","g":"b","w":2430,"f":1.7e-11},{"s":"9.2","g":"b","w":2440,"f":1.67e-11},
{"s":"9.2","g":"d","w":2565,"f":1.32e-11},{"s":"9.2","g":"d","w":2585,"f":1.37e-11},{"s":"9.2","g":"d","w":2600,"f":1.42e-11},{"s":"9.2","g":"d","w":2620,"f":1.45e-11},{"s":"9.2","g":"d","w":2646,"f":1.53e-11},{"s":"9.2","g":"d","w":2665,"f":1.42e-11},{"s":"9.2","g":"d","w":2690,"f":1.32e-11},{"s":"9.2","g":"d","w":2715,"f":1.27e-11},{"s":"9.2","g":"d","w":2737,"f":1.25e-11},{"s":"9.2","g":"d","w":2755,"f":1.53e-11},{"s":"9.2","g":"d","w":2767,"f":2.34e-11},{"s":"9.2","g":"d","w":2778,"f":3.1e-11},{"s":"9.2","g":"d","w":2788,"f":3.58e-11},{"s":"9.2","g":"d","w":2798,"f":3.39e-11},{"s":"9.2","g":"d","w":2808,"f":2.47e-11},{"s":"9.2","g":"d","w":2818,"f":1.58e-11},{"s":"9.2","g":"d","w":2830,"f":1.27e-11},{"s":"9.2","g":"d","w":2858,"f":1.14e-11},{"s":"9.2","g":"d","w":2890,"f":1.16e-11},{"s":"9.2","g":"d","w":2919,"f":1.14e-11},{"s":"9.2","g":"d","w":2940,"f":1.0e-11},{"s":"9.2","g":"d","w":2960,"f":1.07e-11},{"s":"9.2","g":"d","w":3000,"f":1.05e-11},{"s":"9.2","g":"d","w":3020,"f":1.07e-11},{"s":"9.2","g":"d","w":3060,"f":1.04e-11},{"s":"9.2","g":"d","w":3090,"f":1.07e-11},{"s":"9.2","g":"d","w":3110,"f":1.21e-11},{"s":"9.2","g":"d","w":3125,"f":1.4e-11},{"s":"9.2","g":"d","w":3140,"f":1.11e-11},{"s":"9.2","g":"d","w":3161,"f":1.05e-11},{"s":"9.2","g":"d","w":3190,"f":1.0e-11},{"s":"9.2","g":"d","w":3222,"f":9.4e-12},{"s":"9.2","g":"d","w":3250,"f":9.6e-12},{"s":"9.2","g":"d","w":3280,"f":1.02e-11},{"s":"9.2","g":"d","w":3303,"f":1.05e-11},{"s":"9.2","g":"d","w":3330,"f":9.4e-12},{"s":"9.2","g":"d","w":3363,"f":8.95e-12},{"s":"9.2","g":"d","w":3400,"f":9.6e-12},{"s":"9.2","g":"d","w":3430,"f":1.05e-11},{"s":"9.2","g":"d","w":3460,"f":9.4e-12},{"s":"9.2","g":"d","w":3500,"f":8.95e-12},{"s":"9.2","g":"d","w":3540,"f":8.5e-12},{"s":"9.2","g":"d","w":3570,"f":8.8e-12},{"s":"9.2","g":"d","w":3600,"f":7.9e-12},{"s":"9.2","g":"d","w":3640,"f":7.35e-12},{"s":"9.2","g":"d","w":3680,"f":6.85e-12},{"s":"9.2","g":"d","w":3707,"f":6.49e-12},{"s":"9.2","g":"d","w":3740,"f":6.15e-12},{"s":"9.2","g":"d","w":3780,"f":5.82e-12},{"s":"9.2","g":"d","w":3808,"f":5.35e-12},{"s":"9.2","g":"d","w":3840,"f":5.06e-12},{"s":"9.2","g":"d","w":3870,"f":4.88e-12},{"s":"9.2","g":"d","w":3909,"f":4.45e-12},{"s":"9.2","g":"d","w":3940,"f":4.15e-12},{"s":"9.2","g":"d","w":3970,"f":4.0e-12},{"s":"9.2","g":"d","w":4010,"f":3.93e-12},{"s":"9.2","g":"d","w":4040,"f":4.07e-12},{"s":"9.2","g":"d","w":4070,"f":4.37e-12},{"s":"9.2","g":"d","w":4090,"f":4.7e-12},{"s":"9.2","g":"d","w":4101,"f":4.88e-12},{"s":"9.2","g":"d","w":4115,"f":4.3e-12},{"s":"9.2","g":"d","w":4135,"f":3.73e-12},{"s":"9.2","g":"d","w":4172,"f":3.67e-12},{"s":"9.2","g":"d","w":4210,"f":3.47e-12},{"s":"9.2","g":"d","w":4250,"f":3.4e-12},{"s":"9.2","g":"d","w":4290,"f":3.53e-12},{"s":"9.2","g":"d","w":4313,"f":4.0e-12},{"s":"9.2","g":"d","w":4333,"f":4.54e-12},{"s":"9.2","g":"d","w":4350,"f":4.15e-12},{"s":"9.2","g":"d","w":4380,"f":3.67e-12},{"s":"9.2","g":"d","w":4420,"f":3.4e-12},{"s":"9.2","g":"d","w":4460,"f":3.35e-12},{"s":"9.2","g":"d","w":4500,"f":3.4e-12},{"s":"9.2","g":"d","w":4540,"f":3.35e-12},{"s":"9.2","g":"d","w":4580,"f":3.29e-12},{"s":"9.2","g":"d","w":4616,"f":3.4e-12},{"s":"9.2","g":"d","w":4640,"f":3.8e-12},{"s":"9.2","g":"d","w":4660,"f":4.07e-12},{"s":"9.2","g":"d","w":4677,"f":4.3e-12},{"s":"9.2","g":"d","w":4698,"f":3.67e-12},{"s":"9.2","g":"d","w":4718,"f":3.35e-12},{"s":"9.2","g":"d","w":4740,"f":3.13e-12},{"s":"9.2","g":"d","w":4770,"f":2.9e-12},{"s":"9.2","g":"d","w":4798,"f":3.0e-12},{"s":"9.2","g":"d","w":4820,"f":3.18e-12},{"s":"9.2","g":"d","w":4840,"f":3.67e-12},{"s":"9.2","g":"d","w":4859,"f":4.15e-12},{"s":"9.2","g":"d","w":4875,"f":3.93e-12},{"s":"9.2","g":"d","w":4900,"f":3.6e-12},{"s":"9.2","g":"d","w":4920,"f":3.18e-12},{"s":"9.2","g":"d","w":4940,"f":3.0e-12},{"s":"9.2","g":"d","w":4960,"f":2.8e-12},{"s":"9.2","g":"d","w":4977,"f":2.6e-12},

{"s":"16.5","w":1712,"f":1e-13},{"s":"16.5","w":1722,"f":9.4e-11},{"s":"16.5","w":1735,"f":6.65e-10},{"s":"16.5","w":1748,"f":8.2e-10},{"s":"16.5","w":1760,"f":4.65e-10},{"s":"16.5","w":1772,"f":3.85e-11},{"s":"16.5","w":1784,"f":5.43e-12},{"s":"16.5","w":1795,"f":9.4e-11},{"s":"16.5","w":1805,"f":5.5e-11},{"s":"16.5","w":1812,"f":7.85e-11},{"s":"16.5","w":1820,"f":4.6e-11},{"s":"16.5","w":1828,"f":9.4e-11},{"s":"16.5","w":1836,"f":5.98e-11},{"s":"16.5","w":1845,"f":1.12e-10},{"s":"16.5","w":1855,"f":7.85e-11},{"s":"16.5","w":1865,"f":1.34e-10},{"s":"16.5","w":1878,"f":1.6e-10},{"s":"16.5","w":1891,"f":1.75e-10},{"s":"16.5","w":1900,"f":1.63e-10},{"s":"16.5","w":1910,"f":9.4e-11},{"s":"16.5","w":1920,"f":5.5e-11},{"s":"16.5","w":1930,"f":4.2e-11},{"s":"16.5","w":1940,"f":3.22e-11},{"s":"16.5","w":1950,"f":3.52e-11},{"s":"16.5","w":1958,"f":2.7e-11},{"s":"16.5","w":1968,"f":2.95e-11},{"s":"16.5","w":1980,"f":2.18e-11},{"s":"16.5","w":1992,"f":2.47e-11},{"s":"16.5","w":2006,"f":2.07e-11},{"s":"16.5","w":2020,"f":2.26e-11},{"s":"16.5","w":2035,"f":1.96e-11},{"s":"16.5","w":2050,"f":1.99e-11},{"s":"16.5","w":2067,"f":1.76e-11},{"s":"16.5","w":2080,"f":1.96e-11},{"s":"16.5","w":2095,"f":1.79e-11},{"s":"16.5","w":2110,"f":1.82e-11},{"s":"16.5","w":2125,"f":1.7e-11},{"s":"16.5","w":2140,"f":1.76e-11},{"s":"16.5","w":2155,"f":1.55e-11},{"s":"16.5","w":2167,"f":1.4e-11},{"s":"16.5","w":2180,"f":1.45e-11},{"s":"16.5","w":2195,"f":1.27e-11},{"s":"16.5","w":2208,"f":1.16e-11},{"s":"16.5","w":2222,"f":1.23e-11},{"s":"16.5","w":2240,"f":1.11e-11},{"s":"16.5","w":2255,"f":1.14e-11},{"s":"16.5","w":2268,"f":1.09e-11},{"s":"16.5","w":2285,"f":1.21e-11},{"s":"16.5","w":2300,"f":1.16e-11},{"s":"16.5","w":2315,"f":1.07e-11},{"s":"16.5","w":2330,"f":1.0e-11},{"s":"16.5","w":2345,"f":9.6e-12},{"s":"16.5","w":2360,"f":9.8e-12},{"s":"16.5","w":2380,"f":8.95e-12},{"s":"16.5","w":2400,"f":8.8e-12},{"s":"16.5","w":2420,"f":8.65e-12},{"s":"16.5","w":2440,"f":8.5e-12},{"s":"16.5","w":2460,"f":8.05e-12},{"s":"16.5","w":2480,"f":8.35e-12},{"s":"16.5","w":2500,"f":7.75e-12},{"s":"16.5","w":2520,"f":7.9e-12},{"s":"16.5","w":2540,"f":7.5e-12},{"s":"16.5","w":2560,"f":7.35e-12},{"s":"16.5","w":2580,"f":7.5e-12},{"s":"16.5","w":2600,"f":7.2e-12},{"s":"16.5","w":2620,"f":7.35e-12},{"s":"16.5","w":2640,"f":7.0e-12},{"s":"16.5","w":2660,"f":6.49e-12},{"s":"16.5","w":2680,"f":6.35e-12},{"s":"16.5","w":2700,"f":6.15e-12},{"s":"16.5","w":2720,"f":6.35e-12},{"s":"16.5","w":2737,"f":7.1e-12},{"s":"16.5","w":2755,"f":9.27e-12},{"s":"16.5","w":2767,"f":1.27e-11},{"s":"16.5","w":2778,"f":1.64e-11},{"s":"16.5","w":2788,"f":1.79e-11},{"s":"16.5","w":2798,"f":1.7e-11},{"s":"16.5","w":2808,"f":1.27e-11},{"s":"16.5","w":2818,"f":8.65e-12},{"s":"16.5","w":2830,"f":6.49e-12},{"s":"16.5","w":2848,"f":5.6e-12},{"s":"16.5","w":2868,"f":5.25e-12},{"s":"16.5","w":2888,"f":5.06e-12},{"s":"16.5","w":2905,"f":5.5e-12},{"s":"16.5","w":2920,"f":5.15e-12},{"s":"16.5","w":2940,"f":4.79e-12},{"s":"16.5","w":2960,"f":4.97e-12},{"s":"16.5","w":2980,"f":4.7e-12},{"s":"16.5","w":3000,"f":4.79e-12},{"s":"16.5","w":3020,"f":4.54e-12},{"s":"16.5","w":3040,"f":4.62e-12},{"s":"16.5","w":3060,"f":4.22e-12},{"s":"16.5","w":3080,"f":4.07e-12},{"s":"16.5","w":3100,"f":4.37e-12},{"s":"16.5","w":3112,"f":5.43e-12},{"s":"16.5","w":3125,"f":7.1e-12},{"s":"16.5","w":3138,"f":5.25e-12},{"s":"16.5","w":3150,"f":4.37e-12},{"s":"16.5","w":3170,"f":4.7e-12},{"s":"16.5","w":3190,"f":4.37e-12},{"s":"16.5","w":3210,"f":4.54e-12},{"s":"16.5","w":3230,"f":4.22e-12},{"s":"16.5","w":3250,"f":4.37e-12},{"s":"16.5","w":3270,"f":4.15e-12},{"s":"16.5","w":3290,"f":4.45e-12},{"s":"16.5","w":3310,"f":4.07e-12},{"s":"16.5","w":3330,"f":4.37e-12},{"s":"16.5","w":3350,"f":4.0e-12},{"s":"16.5","w":3370,"f":4.3e-12},{"s":"16.5","w":3390,"f":4.15e-12},{"s":"16.5","w":3410,"f":4.37e-12},{"s":"16.5","w":3432,"f":4.97e-12},{"s":"16.5","w":3450,"f":4.15e-12},{"s":"16.5","w":3470,"f":3.8e-12},{"s":"16.5","w":3490,"f":3.67e-12},{"s":"16.5","w":3505,"f":3.6e-12},{"s":"16.5","w":3530,"f":3.67e-12},{"s":"16.5","w":3560,"f":3.53e-12},{"s":"16.5","w":3590,"f":3.6e-12},{"s":"16.5","w":3620,"f":3.47e-12},{"s":"16.5","w":3646,"f":3.4e-12},{"s":"16.5","w":3670,"f":3.0e-12},{"s":"16.5","w":3690,"f":2.7e-12},{"s":"16.5","w":3710,"f":2.55e-12},{"s":"16.5","w":3740,"f":2.39e-12},{"s":"16.5","w":3767,"f":2.11e-12},{"s":"16.5","w":3790,"f":2.31e-12},{"s":"16.5","w":3810,"f":2.19e-12},{"s":"16.5","w":3830,"f":2.27e-12},{"s":"16.5","w":3850,"f":2.15e-12},{"s":"16.5","w":3870,"f":2.23e-12},{"s":"16.5","w":3890,"f":2.04e-12},{"s":"16.5","w":3910,"f":1.97e-12},{"s":"16.5","w":3930,"f":1.87e-12},{"s":"16.5","w":3950,"f":2.0e-12},{"s":"16.5","w":3970,"f":2.11e-12},{"s":"16.5","w":3990,"f":1.94e-12},{"s":"16.5","w":4010,"f":1.68e-12},{"s":"16.5","w":4030,"f":1.56e-12},{"s":"16.5","w":4050,"f":1.6e-12},{"s":"16.5","w":4070,"f":1.8e-12},{"s":"16.5","w":4091,"f":2.23e-12},{"s":"16.5","w":4101,"f":2.15e-12},{"s":"16.5","w":4115,"f":1.8e-12},{"s":"16.5","w":4135,"f":1.6e-12},{"s":"16.5","w":4151,"f":1.56e-12},{"s":"16.5","w":4172,"f":1.48e-12},{"s":"16.5","w":4200,"f":1.56e-12},{"s":"16.5","w":4230,"f":1.43e-12},{"s":"16.5","w":4252,"f":1.45e-12},{"s":"16.5","w":4275,"f":1.51e-12},{"s":"16.5","w":4300,"f":1.6e-12},{"s":"16.5","w":4320,"f":1.94e-12},{"s":"16.5","w":4333,"f":2.23e-12},{"s":"16.5","w":4350,"f":1.94e-12},{"s":"16.5","w":4370,"f":1.6e-12},{"s":"16.5","w":4394,"f":1.51e-12},{"s":"16.5","w":4420,"f":1.43e-12},{"s":"16.5","w":4445,"f":1.35e-12},{"s":"16.5","w":4465,"f":1.39e-12},{"s":"16.5","w":4485,"f":1.56e-12},{"s":"16.5","w":4505,"f":1.48e-12},{"s":"16.5","w":4530,"f":1.6e-12},{"s":"16.5","w":4556,"f":1.65e-12},{"s":"16.5","w":4580,"f":1.71e-12},{"s":"16.5","w":4600,"f":1.77e-12},{"s":"16.5","w":4625,"f":2.04e-12},{"s":"16.5","w":4645,"f":2.31e-12},{"s":"16.5","w":4667,"f":2.55e-12},{"s":"16.5","w":4680,"f":2.43e-12},{"s":"16.5","w":4698,"f":1.87e-12},{"s":"16.5","w":4718,"f":1.43e-12},{"s":"16.5","w":4738,"f":1.13e-12},{"s":"16.5","w":4758,"f":1.26e-12},{"s":"16.5","w":4778,"f":1.19e-12},{"s":"16.5","w":4798,"f":1.31e-12},{"s":"16.5","w":4815,"f":1.43e-12},{"s":"16.5","w":4830,"f":1.87e-12},{"s":"16.5","w":4845,"f":2.76e-12},{"s":"16.5","w":4859,"f":3.29e-12},{"s":"16.5","w":4870,"f":3.06e-12},{"s":"16.5","w":4885,"f":2.43e-12},{"s":"16.5","w":4900,"f":2.15e-12},{"s":"16.5","w":4920,"f":1.87e-12},{"s":"16.5","w":4940,"f":2.04e-12},{"s":"16.5","w":4960,"f":1.84e-12},{"s":"16.5","w":4977,"f":1.97e-12},

{"s":"18.5","w":1720,"f":1e-13},{"s":"18.5","w":1735,"f":5.0e-10},{"s":"18.5","w":1748,"f":5.8e-10},{"s":"18.5","w":1760,"f":9.4e-11},{"s":"18.5","w":1770,"f":1e-13},{"s":"18.5","w":1790,"f":5.43e-12},{"s":"18.5","w":1800,"f":1e-13},{"s":"18.5","w":1940,"f":1e-13},{"s":"18.5","w":1950,"f":3.18e-12},{"s":"18.5","w":1962,"f":8.05e-12},{"s":"18.5","w":1972,"f":6.49e-12},{"s":"18.5","w":1985,"f":8.2e-12},{"s":"18.5","w":1996,"f":7.75e-12},{"s":"18.5","w":2008,"f":5.43e-12},{"s":"18.5","w":2020,"f":3.18e-12},{"s":"18.5","w":2030,"f":1.09e-12},{"s":"18.5","w":2040,"f":1e-13},{"s":"18.5","w":2050,"f":1.56e-12},{"s":"18.5","w":2060,"f":3.14e-13},{"s":"18.5","w":2070,"f":3.8e-12},{"s":"18.5","w":2080,"f":2.9e-12},{"s":"18.5","w":2090,"f":3.3e-12},{"s":"18.5","w":2100,"f":4.54e-12},{"s":"18.5","w":2112,"f":3.47e-12},{"s":"18.5","w":2125,"f":3.9e-12},{"s":"18.5","w":2138,"f":3.0e-12},{"s":"18.5","w":2150,"f":1.87e-12},{"s":"18.5","w":2162,"f":1.31e-12},{"s":"18.5","w":2172,"f":1e-13},{"s":"18.5","w":2182,"f":1.09e-12},{"s":"18.5","w":2192,"f":6.41e-13},{"s":"18.5","w":2202,"f":1.48e-12},{"s":"18.5","w":2212,"f":1e-13},{"s":"18.5","w":2222,"f":9.6e-13},{"s":"18.5","w":2235,"f":7.65e-13},{"s":"18.5","w":2248,"f":3.76e-13},{"s":"18.5","w":2258,"f":1e-13},{"s":"18.5","w":2268,"f":3.6e-13},{"s":"18.5","w":2278,"f":1e-13},{"s":"18.5","w":2288,"f":5.36e-13},{"s":"18.5","w":2298,"f":1e-13},{"s":"18.5","w":2306,"f":1.17e-12},{"s":"18.5","w":2318,"f":2.23e-12},{"s":"18.5","w":2330,"f":2.66e-12},{"s":"18.5","w":2345,"f":2.8e-12},{"s":"18.5","w":2360,"f":2.23e-12},{"s":"18.5","w":2375,"f":1.71e-12},{"s":"18.5","w":2390,"f":1.6e-12},{"s":"18.5","w":2405,"f":1.87e-12},{"s":"18.5","w":2420,"f":2.15e-12},{"s":"18.5","w":2435,"f":2.23e-12},{"s":"18.5","w":2450,"f":2.55e-12},{"s":"18.5","w":2465,"f":2.31e-12},{"s":"18.5","w":2480,"f":2.55e-12},{"s":"18.5","w":2495,"f":2.04e-12},{"s":"18.5","w":2510,"f":2.15e-12},{"s":"18.5","w":2525,"f":1.94e-12},{"s":"18.5","w":2540,"f":2.23e-12},{"s":"18.5","w":2555,"f":2.43e-12},{"s":"18.5","w":2570,"f":2.15e-12},{"s":"18.5","w":2585,"f":1.94e-12},{"s":"18.5","w":2600,"f":1.68e-12},{"s":"18.5","w":2615,"f":2.15e-12},{"s":"18.5","w":2630,"f":2.23e-12},{"s":"18.5","w":2645,"f":2.66e-12},{"s":"18.5","w":2660,"f":2.15e-12},{"s":"18.5","w":2675,"f":1.87e-12},{"s":"18.5","w":2690,"f":1.94e-12},{"s":"18.5","w":2705,"f":1.77e-12},{"s":"18.5","w":2720,"f":1.94e-12},{"s":"18.5","w":2735,"f":2.0e-12},{"s":"18.5","w":2750,"f":2.9e-12},{"s":"18.5","w":2767,"f":4.54e-12},{"s":"18.5","w":2778,"f":7.1e-12},{"s":"18.5","w":2790,"f":9.6e-12},{"s":"18.5","w":2800,"f":9.9e-12},{"s":"18.5","w":2810,"f":7.75e-12},{"s":"18.5","w":2822,"f":4.54e-12},{"s":"18.5","w":2835,"f":2.9e-12},{"s":"18.5","w":2850,"f":2.11e-12},{"s":"18.5","w":2865,"f":2.04e-12},{"s":"18.5","w":2880,"f":2.15e-12},{"s":"18.5","w":2895,"f":1.87e-12},{"s":"18.5","w":2909,"f":1.56e-12},{"s":"18.5","w":2925,"f":1.87e-12},{"s":"18.5","w":2939,"f":2.11e-12},{"s":"18.5","w":2955,"f":1.87e-12},{"s":"18.5","w":2970,"f":1.71e-12},{"s":"18.5","w":2985,"f":1.94e-12},{"s":"18.5","w":3000,"f":1.65e-12},{"s":"18.5","w":3020,"f":1.8e-12},{"s":"18.5","w":3040,"f":1.97e-12},{"s":"18.5","w":3060,"f":1.71e-12},{"s":"18.5","w":3080,"f":1.56e-12},{"s":"18.5","w":3100,"f":1.87e-12},{"s":"18.5","w":3112,"f":2.43e-12},{"s":"18.5","w":3121,"f":2.8e-12},{"s":"18.5","w":3135,"f":2.31e-12},{"s":"18.5","w":3150,"f":2.0e-12},{"s":"18.5","w":3165,"f":2.11e-12},{"s":"18.5","w":3180,"f":1.8e-12},{"s":"18.5","w":3202,"f":1.65e-12},{"s":"18.5","w":3220,"f":1.87e-12},{"s":"18.5","w":3240,"f":2.0e-12},{"s":"18.5","w":3262,"f":1.94e-12},{"s":"18.5","w":3282,"f":2.0e-12},{"s":"18.5","w":3300,"f":2.11e-12},{"s":"18.5","w":3323,"f":1.94e-12},{"s":"18.5","w":3340,"f":2.08e-12},{"s":"18.5","w":3363,"f":1.65e-12},{"s":"18.5","w":3383,"f":1.77e-12},{"s":"18.5","w":3403,"f":1.87e-12},{"s":"18.5","w":3424,"f":2.0e-12},{"s":"18.5","w":3440,"f":2.19e-12},{"s":"18.5","w":3455,"f":1.97e-12},{"s":"18.5","w":3470,"f":1.87e-12},{"s":"18.5","w":3485,"f":1.65e-12},{"s":"18.5","w":3505,"f":1.56e-12},{"s":"18.5","w":3525,"f":1.6e-12},{"s":"18.5","w":3545,"f":1.48e-12},{"s":"18.5","w":3565,"f":1.53e-12},{"s":"18.5","w":3586,"f":1.6e-12},{"s":"18.5","w":3606,"f":1.74e-12},{"s":"18.5","w":3616,"f":1.71e-12},{"s":"18.5","w":3636,"f":1.6e-12},{"s":"18.5","w":3660,"f":1.56e-12},{"s":"18.5","w":3680,"f":1.26e-12},{"s":"18.5","w":3697,"f":1.15e-12},{"s":"18.5","w":3707,"f":8.85e-13},{"s":"18.5","w":3717,"f":7.65e-13},{"s":"18.5","w":3735,"f":8.4e-13},{"s":"18.5","w":3757,"f":9.15e-13},{"s":"18.5","w":3770,"f":7.65e-13},{"s":"18.5","w":3785,"f":7.0e-13},{"s":"18.5","w":3800,"f":5.75e-13},{"s":"18.5","w":3820,"f":7.0e-13},{"s":"18.5","w":3840,"f":7.9e-13},{"s":"18.5","w":3860,"f":7.65e-13},{"s":"18.5","w":3879,"f":8.1e-13},{"s":"18.5","w":3890,"f":7.0e-13},{"s":"18.5","w":3900,"f":6.41e-13},{"s":"18.5","w":3915,"f":4.9e-13},{"s":"18.5","w":3929,"f":3.9e-13},{"s":"18.5","w":3945,"f":6.41e-13},{"s":"18.5","w":3960,"f":6.9e-13},{"s":"18.5","w":3975,"f":5.36e-13},{"s":"18.5","w":3990,"f":4.8e-13},{"s":"18.5","w":4000,"f":4.7e-13},{"s":"18.5","w":4015,"f":3.76e-13},{"s":"18.5","w":4030,"f":3.3e-13},{"s":"18.5","w":4045,"f":4.49e-13},{"s":"18.5","w":4060,"f":5.36e-13},{"s":"18.5","w":4075,"f":7.0e-13},{"s":"18.5","w":4091,"f":8.4e-13},{"s":"18.5","w":4110,"f":8.3e-13},{"s":"18.5","w":4121,"f":7.65e-13},{"s":"18.5","w":4135,"f":4.9e-13},{"s":"18.5","w":4151,"f":3.6e-13},{"s":"18.5","w":4165,"f":3.14e-13},{"s":"18.5","w":4180,"f":3.6e-13},{"s":"18.5","w":4192,"f":2.72e-13},{"s":"18.5","w":4210,"f":3.76e-13},{"s":"18.5","w":4230,"f":4.25e-13},{"s":"18.5","w":4250,"f":3.76e-13},{"s":"18.5","w":4265,"f":3.38e-13},{"s":"18.5","w":4285,"f":3.62e-13},{"s":"18.5","w":4300,"f":4.7e-13},{"s":"18.5","w":4313,"f":4.7e-13},{"s":"18.5","w":4325,"f":7.0e-13},{"s":"18.5","w":4335,"f":8.4e-13},{"s":"18.5","w":4350,"f":7.9e-13},{"s":"18.5","w":4365,"f":7.0e-13},{"s":"18.5","w":4380,"f":5.85e-13},{"s":"18.5","w":4400,"f":4.1e-13},{"s":"18.5","w":4420,"f":4.35e-13},{"s":"18.5","w":4440,"f":3.9e-13},{"s":"18.5","w":4455,"f":4.49e-13},{"s":"18.5","w":4475,"f":4.1e-13},{"s":"18.5","w":4495,"f":3.76e-13},{"s":"18.5","w":4510,"f":4.6e-13},{"s":"18.5","w":4525,"f":5.36e-13},{"s":"18.5","w":4540,"f":4.9e-13},{"s":"18.5","w":4556,"f":5.55e-13},{"s":"18.5","w":4575,"f":5.15e-13},{"s":"18.5","w":4596,"f":5.05e-13},{"s":"18.5","w":4610,"f":5.7e-13},{"s":"18.5","w":4625,"f":6.0e-13},{"s":"18.5","w":4645,"f":9.15e-13},{"s":"18.5","w":4660,"f":1.0e-12},{"s":"18.5","w":4675,"f":1.19e-12},{"s":"18.5","w":4687,"f":1.24e-12},{"s":"18.5","w":4698,"f":1.0e-12},{"s":"18.5","w":4712,"f":6.9e-13},{"s":"18.5","w":4728,"f":5.36e-13},{"s":"18.5","w":4742,"f":3.76e-13},{"s":"18.5","w":4758,"f":3.14e-13},{"s":"18.5","w":4768,"f":3.3e-13},{"s":"18.5","w":4778,"f":3.05e-13},{"s":"18.5","w":4790,"f":3.9e-13},{"s":"18.5","w":4809,"f":4.25e-13},{"s":"18.5","w":4825,"f":7.0e-13},{"s":"18.5","w":4839,"f":1.15e-12},{"s":"18.5","w":4855,"f":1.71e-12},{"s":"18.5","w":4870,"f":1.94e-12},{"s":"18.5","w":4880,"f":1.8e-12},{"s":"18.5","w":4892,"f":1.43e-12},{"s":"18.5","w":4905,"f":9.15e-13},{"s":"18.5","w":4915,"f":8.4e-13},{"s":"18.5","w":4930,"f":8.6e-13},{"s":"18.5","w":4945,"f":7.0e-13},{"s":"18.5","w":4955,"f":4.9e-13},{"s":"18.5","w":4965,"f":9.15e-13},{"s":"18.5","w":4977,"f":7.0e-13},

{"s":"iue","w":1836,"f":1e-13},{"s":"iue","w":1842,"f":2.26e-11},{"s":"iue","w":1850,"f":4.45e-11},{"s":"iue","w":1858,"f":2.95e-11},{"s":"iue","w":1866,"f":1.32e-11},{"s":"iue","w":1872,"f":4.54e-12},{"s":"iue","w":1880,"f":1.89e-11},{"s":"iue","w":1890,"f":3.52e-11},{"s":"iue","w":1905,"f":5.7e-11},{"s":"iue","w":1915,"f":2.7e-11},{"s":"iue","w":1925,"f":6.85e-12},{"s":"iue","w":1935,"f":1.65e-12},{"s":"iue","w":1945,"f":6.41e-13},{"s":"iue","w":1955,"f":3.14e-13},{"s":"iue","w":1965,"f":1e-13},{"s":"iue","w":1976,"f":8.1e-13},{"s":"iue","w":1992,"f":5.6e-12},{"s":"iue","w":2006,"f":5.15e-12},{"s":"iue","w":2026,"f":2.35e-12},{"s":"iue","w":2036,"f":3.0e-12},{"s":"iue","w":2056,"f":1.56e-12},{"s":"iue","w":2076,"f":3.6e-13},{"s":"iue","w":2097,"f":1.31e-12},{"s":"iue","w":2117,"f":3.8e-12},{"s":"iue","w":2131,"f":5.15e-12},{"s":"iue","w":2147,"f":3.18e-12},{"s":"iue","w":2167,"f":1.31e-12},{"s":"iue","w":2184,"f":1e-13},{"s":"iue","w":2208,"f":9.15e-13},{"s":"iue","w":2228,"f":6.41e-13},{"s":"iue","w":2248,"f":2.8e-13},{"s":"iue","w":2268,"f":8.1e-13},{"s":"iue","w":2288,"f":2.11e-12},{"s":"iue","w":2310,"f":2.75e-12},{"s":"iue","w":2329,"f":2.35e-12},{"s":"iue","w":2345,"f":8.1e-13},{"s":"iue","w":2355,"f":6.1e-13},{"s":"iue","w":2370,"f":1.31e-12},{"s":"iue","w":2390,"f":1.6e-12},{"s":"iue","w":2420,"f":1.77e-12},{"s":"iue","w":2440,"f":1.56e-12},{"s":"iue","w":2460,"f":1.8e-12},{"s":"iue","w":2481,"f":1.87e-12},{"s":"iue","w":2495,"f":1.71e-12},{"s":"iue","w":2511,"f":1.48e-12},{"s":"iue","w":2530,"f":1.6e-12},{"s":"iue","w":2551,"f":1.68e-12},{"s":"iue","w":2576,"f":1.43e-12},{"s":"iue","w":2596,"f":1.15e-12},{"s":"iue","w":2615,"f":1.56e-12},{"s":"iue","w":2636,"f":2.52e-12},{"s":"iue","w":2646,"f":2.04e-12},{"s":"iue","w":2666,"f":1.48e-12},{"s":"iue","w":2690,"f":1.19e-12},{"s":"iue","w":2705,"f":1.43e-12},{"s":"iue","w":2720,"f":1.87e-12},{"s":"iue","w":2737,"f":2.23e-12},{"s":"iue","w":2755,"f":3.18e-12},{"s":"iue","w":2767,"f":4.97e-12},{"s":"iue","w":2778,"f":7.1e-12},{"s":"iue","w":2790,"f":9.6e-12},{"s":"iue","w":2800,"f":1.02e-11},{"s":"iue","w":2810,"f":7.75e-12},{"s":"iue","w":2822,"f":4.15e-12},{"s":"iue","w":2835,"f":2.23e-12},{"s":"iue","w":2850,"f":1.48e-12},{"s":"iue","w":2865,"f":1.31e-12},{"s":"iue","w":2888,"f":1.26e-12},{"s":"iue","w":2909,"f":1.56e-12},{"s":"iue","w":2929,"f":2.04e-12},{"s":"iue","w":2945,"f":1.43e-12},{"s":"iue","w":2965,"f":1.31e-12},{"s":"iue","w":2990,"f":1.39e-12},{"s":"iue","w":3010,"f":1.56e-12},{"s":"iue","w":3030,"f":1.37e-12},{"s":"iue","w":3050,"f":1.6e-12},{"s":"iue","w":3070,"f":1.26e-12},{"s":"iue","w":3090,"f":1.35e-12},{"s":"iue","w":3105,"f":2.23e-12},{"s":"iue","w":3120,"f":3.8e-12},{"s":"iue","w":3131,"f":4.54e-12},{"s":"iue","w":3145,"f":1.87e-12},{"s":"iue","w":3161,"f":1.37e-12},{"s":"iue","w":3181,"f":1.97e-12},{"s":"iue","w":3200,"f":1.56e-12},{"s":"iue","w":3222,"f":1.31e-12},{"s":"iue","w":3242,"f":1.48e-12},{"s":"iue","w":3262,"f":1.35e-12},{"s":"iue","w":3282,"f":1.04e-12},{"s":"iue","w":3303,"f":1.48e-12},{"s":"iue","w":3320,"f":1.87e-12},{"s":"iue","w":3333,"f":2.52e-12},{"s":"iue","w":3342,"f":2.23e-12},{"s":"iue","w":3348,"f":1e-13}
]
},
"encoding": {
"x": {"field": "w", "type": "quantitative",
 "scale": {"domain": [1667, 4981], "nice": false, "zero": false},
 "axis": {"values": [2000, 2500, 3000, 3500, 4000, 4500], "format": "d", "grid": false,
  "title": "wavelength (Å)", "titleFontSize": 22, "titleFontWeight": "normal", "titleFont": "DejaVu Sans", "titleColor": "black", "titlePadding": 6,
  "labelFontSize": 14, "labelFont": "DejaVu Sans", "labelColor": "black", "labelPadding": 3, "labelFlush": false,
  "tickSize": 5, "tickColor": "black", "domainColor": "black"}},
"y": {"field": "f", "type": "quantitative",
 "scale": {"type": "log", "domain": [2.0e-13, 1.22e-9], "nice": false},
 "axis": {"values": [2e-13,3e-13,4e-13,5e-13,6e-13,7e-13,8e-13,9e-13,1e-12,2e-12,3e-12,4e-12,5e-12,6e-12,7e-12,8e-12,9e-12,1e-11,2e-11,3e-11,4e-11,5e-11,6e-11,7e-11,8e-11,9e-11,1e-10,2e-10,3e-10,4e-10,5e-10,6e-10,7e-10,8e-10,9e-10,1e-9],
  "labelExpr": "abs(log(datum.value)/LN10 - round(log(datum.value)/LN10)) > 0.01 ? '' : round(log(datum.value)/LN10) == -9 ? '10⁻⁹' : round(log(datum.value)/LN10) == -10 ? '10⁻¹⁰' : round(log(datum.value)/LN10) == -11 ? '10⁻¹¹' : round(log(datum.value)/LN10) == -12 ? '10⁻¹²' : ''",
  "tickSize": {"condition": {"test": "abs(log(datum.value)/LN10 - round(log(datum.value)/LN10)) < 0.01", "value": 5}, "value": 3},
  "grid": false, "labelOverlap": false, "labelFlush": false,
  "labelFontSize": 14, "labelFont": "DejaVu Sans", "labelColor": "black", "labelPadding": 3,
  "tickColor": "black", "domainColor": "black",
  "title": ["dereddened flux (erg cm⁻² s⁻¹ Å⁻¹)", "with offsets of 10⁻¹³"],
  "titleFontSize": 21, "titleFontWeight": "normal", "titleFont": "DejaVu Sans", "titleColor": "black",
  "titleAngle": 270, "titleAlign": "center", "titleBaseline": "middle", "titleX": -89, "titleY": 250, "titleLineHeight": 25}}
},
"layer": [
{"data": {"name": "spec"},
 "mark": {"type": "line", "clip": true, "strokeWidth": 1.8},
 "encoding": {
  "color": {"field": "s", "type": "nominal",
   "scale": {"domain": ["6.1","6.8","7.6","8.5","9.2","16.5","18.5","iue"], "range": ["#00008b","#800080","#ffd700","#008000","#8b0000","#ff4500","#0000ff","#000000"]},
   "legend": {"orient": "none", "legendX": 341, "legendY": 8,
    "title": ["V3890 Sgr 2019", "Pei SMC Rv=3.1 Av=1.77"],
    "titleFontSize": 14.5, "titleFontWeight": "normal", "titleFont": "DejaVu Sans", "titleColor": "black", "titleLineHeight": 17, "titlePadding": 4, "titleLimit": 400,
    "labelExpr": "datum.label == 'iue' ? 'iue 1990 day 18' : 'day ' + (length(datum.label) < 4 ? '\u00a0' : '') + datum.label",
    "labelFontSize": 14.5, "labelFont": "DejaVu Sans", "labelColor": "black", "labelLimit": 300,
    "symbolType": "M-2.5,0H2.5", "symbolSize": 169, "symbolStrokeWidth": 1.8, "symbolOffset": 18, "labelOffset": 18,
    "rowPadding": 6, "padding": 8, "fillColor": "white", "strokeColor": "#cccccc", "cornerRadius": 4}},
  "detail": {"field": "g"}}},
{"data": {"name": "ann"},
 "mark": {"type": "text", "angle": 270, "align": "left", "baseline": "middle", "fontSize": 14, "font": "DejaVu Sans", "color": "black"},
 "encoding": {"text": {"field": "t"}}}
],
"config": {"view": {"stroke": "black", "strokeWidth": 1}}
}
